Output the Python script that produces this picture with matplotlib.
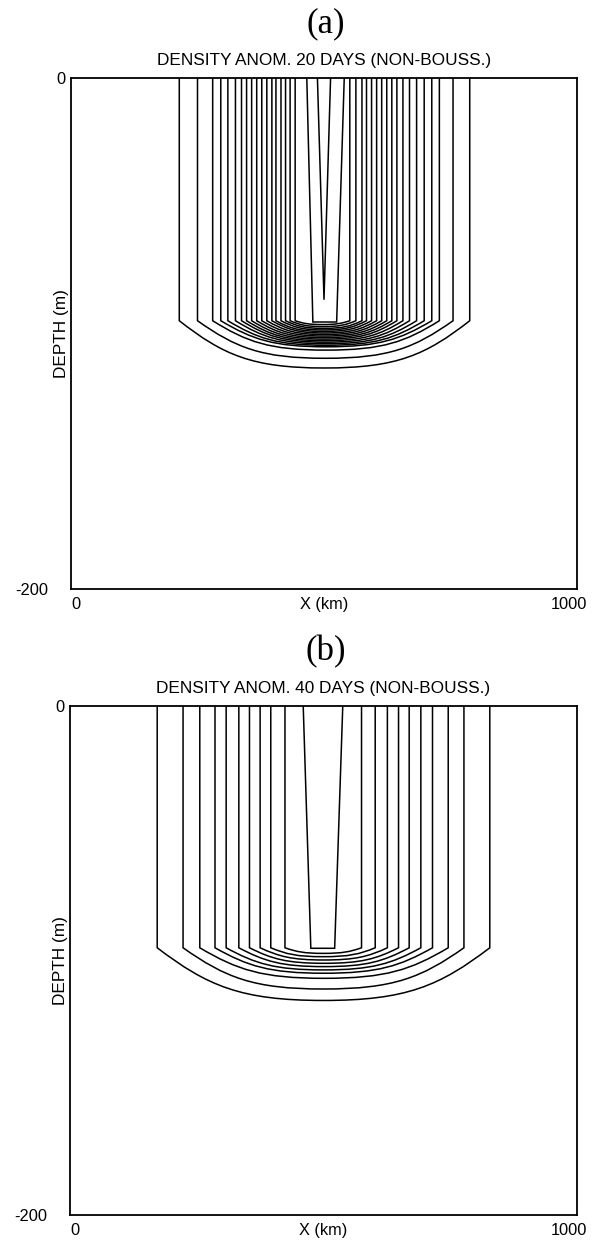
import matplotlib
matplotlib.use("Agg")
import matplotlib.pyplot as plt
from matplotlib.path import Path
from matplotlib.patches import PathPatch

plt.rcParams["font.family"] = ["Liberation Sans", "DejaVu Sans"]

# ---- datos (x en km, z en m, negativo hacia abajo) ----

# panel (a): 20 dias
a_x_left = [214, 250, 280, 296, 310, 325, 337, 347, 357, 367, 377, 387, 397, 405, 415, 424, 433, 443, 466]
a_x_right = [788, 755, 728, 713, 698, 683, 669, 656, 644, 634, 624, 614, 604, 594, 584, 575, 563, 551, 540]
a_x_left_corner = [214, 250, 280, 296, 310, 325, 337, 347, 357, 367, 377, 387, 397, 405, 415, 424, 433, 443, 478]
a_x_right_corner = [788, 755, 728, 713, 698, 683, 669, 656, 644, 634, 624, 614, 604, 594, 584, 575, 563, 551, 525]
a_z_side = [-95.0] * 18 + [-95.5]
a_z_bottom = [-113.5, -109.7, -106.5, -105.2, -104.6, -104.0, -103.4, -102.8, -102.2, -101.6,
              -101.0, -100.4, -99.8, -99.2, -98.6, -98.0, -97.3, -96.5, -95.5]
# contorno central en forma de V
a_v_x = [487, 500, 513]
a_v_z = [0, -86.6, 0]

# panel (b): 40 dias
b_x_left = [172, 223, 256, 286, 308, 333, 354, 375, 396, 424, 460]
b_x_right = [828, 777, 746, 715, 692, 669, 648, 626, 602, 575, 538]
b_x_left_corner = [172, 223, 256, 286, 308, 333, 354, 375, 396, 424, 475]
b_x_right_corner = [828, 777, 746, 715, 692, 669, 648, 626, 602, 575, 522]
b_z_side = [-95.0] * 10 + [-95.2]
b_z_bottom = [-115.7, -111.2, -107.0, -105.0, -103.7, -102.4, -101.1, -99.8, -98.5, -97.2, -95.2]

paneles = [
    ("(a)", "DENSITY ANOM. 20 DAYS (NON-BOUSS.)",
     a_x_left, a_x_right, a_x_left_corner, a_x_right_corner, a_z_side, a_z_bottom, (a_v_x, a_v_z)),
    ("(b)", "DENSITY ANOM. 40 DAYS (NON-BOUSS.)",
     b_x_left, b_x_right, b_x_left_corner, b_x_right_corner, b_z_side, b_z_bottom, None),
]

W, H = 595, 1240
fig = plt.figure(figsize=(W / 100, H / 100), dpi=100)

# posiciones de los ejes en pixeles (izq, arriba, der, abajo)
cajas = [(71, 78, 577, 589), (70, 706, 577, 1215)]
LW = 1.1


def contorno_u(xl, xr, xlc, xrc, zs, zb):
    # lados verticales + fondo curvo (dos bezier cubicas)
    xc = (xlc + xrc) / 2.0
    hw = (xrc - xlc) / 2.0
    dz = zb - zs
    verts = [(xl, 0), (xlc, zs),
             (xlc + 0.3 * hw, zs + 0.72 * dz), (xlc + 0.5 * hw, zb), (xc, zb),
             (xc + 0.5 * hw, zb), (xrc - 0.3 * hw, zs + 0.72 * dz), (xrc, zs),
             (xr, 0)]
    codes = [Path.MOVETO, Path.LINETO,
             Path.CURVE4, Path.CURVE4, Path.CURVE4,
             Path.CURVE4, Path.CURVE4, Path.CURVE4,
             Path.LINETO]
    return Path(verts, codes)


for (etiqueta, titulo, xl, xr, xlc, xrc, zs, zb, v), (x0, y0, x1, y1) in zip(paneles, cajas):
    ax = fig.add_axes([x0 / W, 1 - y1 / H, (x1 - x0) / W, (y1 - y0) / H])
    ax.set_xlim(0, 1000)
    ax.set_ylim(-200, 0)
    ax.set_xticks([])
    ax.set_yticks([])
    for s in ax.spines.values():
        s.set_linewidth(1.3)

    for i in range(len(xl)):
        p = contorno_u(xl[i], xr[i], xlc[i], xrc[i], zs[i], zb[i])
        ax.add_patch(PathPatch(p, fill=False, edgecolor="black", lw=LW, joinstyle="miter"))
    if v is not None:
        ax.plot(v[0], v[1], color="black", lw=LW)

    fs = 11.8
    ax.set_title(titulo, fontsize=12.4, pad=9.5)
    ax.annotate("0", xy=(0, 0), xytext=(-4.3, -1), textcoords="offset points",
                ha="right", va="center", fontsize=fs, annotation_clip=False)
    ax.annotate("-200", xy=(0, -200), xytext=(-16.6, -1), textcoords="offset points",
                ha="right", va="center", fontsize=fs, annotation_clip=False)
    ax.annotate("0", xy=(0, -200), xytext=(0, -5.5), textcoords="offset points",
                ha="left", va="top", fontsize=fs, annotation_clip=False)
    ax.annotate("1000", xy=(1000, -200), xytext=(-5.8, -5.5), textcoords="offset points",
                ha="center", va="top", fontsize=fs, annotation_clip=False)
    ax.annotate("X (km)", xy=(500, -200), xytext=(0, -5.5), textcoords="offset points",
                ha="center", va="top", fontsize=fs, annotation_clip=False)
    ax.set_ylabel("DEPTH (m)", fontsize=12.4)
    ax.yaxis.set_label_coords(-0.004, 0.5)

    fig.text(326 / W, 1 - (y0 - 46) / H, etiqueta, ha="center", va="baseline",
             fontsize=25, family=["Liberation Serif", "DejaVu Serif"])

fig.savefig("out.png", dpi=100)
